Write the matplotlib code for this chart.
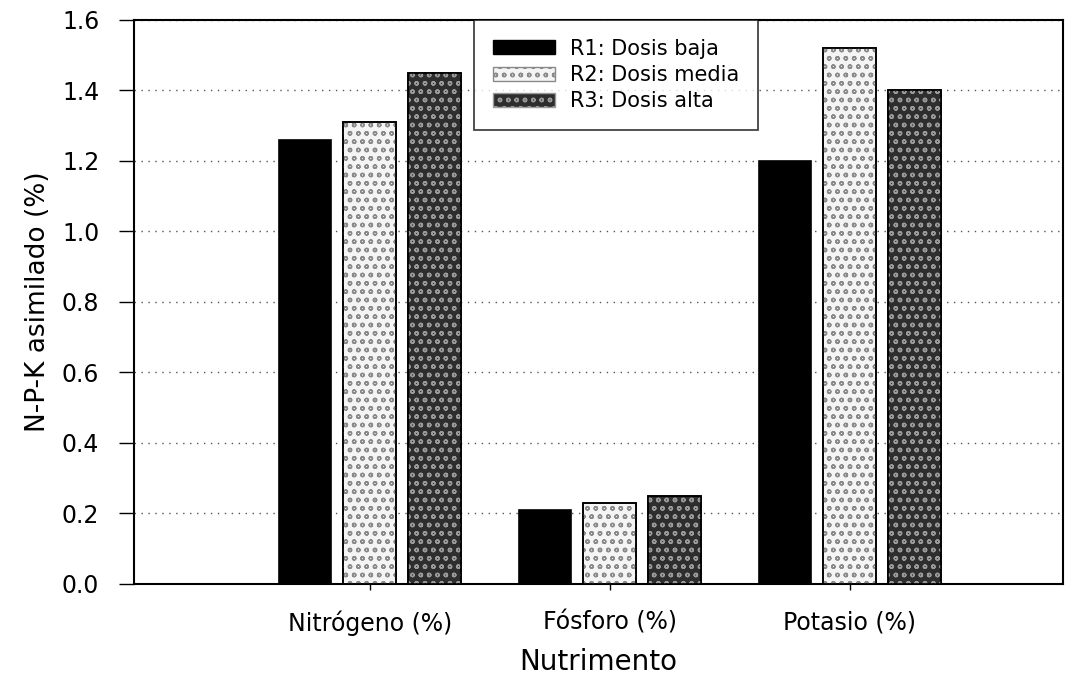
import numpy as np
import matplotlib.pyplot as plt
import matplotlib.patches as mpatches

# datos
nutrientes = ['Nitrógeno (%)', 'Fósforo (%)', 'Potasio (%)']
r1_baja = [1.26, 0.21, 1.20]
r2_media = [1.31, 0.23, 1.52]
r3_alta = [1.45, 0.25, 1.40]
series = ['R1: Dosis baja', 'R2: Dosis media', 'R3: Dosis alta']

plt.rcParams['font.family'] = ['DejaVu Sans']

fig = plt.figure(figsize=(10.78, 6.87), dpi=100)
ax = fig.add_axes([0.1243, 0.15, 0.8617, 0.821])

x = np.arange(len(nutrientes))
w = 0.22
step = 0.27

estilos = [
    dict(face='black', hatch=None, hcol=None),
    dict(face='#f4f4f4', hatch='oo', hcol='#8a8a8a'),
    dict(face='#2e2e2e', hatch='oo', hcol='#9a9a9a'),
]

for i, vals in enumerate([r1_baja, r2_media, r3_alta]):
    st = estilos[i]
    pos = x + (i - 1) * step
    ax.bar(pos, vals, w, color=st['face'], edgecolor='black', linewidth=1.2, zorder=3)
    if st['hatch']:
        ax.bar(pos, vals, w, color='none', edgecolor=st['hcol'], hatch=st['hatch'], linewidth=0, zorder=4)
        ax.bar(pos, vals, w, color='none', edgecolor='black', linewidth=1.2, zorder=5)

ax.set_xlim(-0.983, 2.888)
ax.set_ylim(0, 1.6)
ax.set_yticks(np.arange(0, 1.61, 0.2))
ax.set_yticklabels(['%.1f' % v for v in np.arange(0, 1.61, 0.2)])
ax.set_xticks(x)
ax.set_xticklabels(nutrientes)
ax.tick_params(axis='y', direction='out', length=11, width=1, labelsize=17, pad=14)
ax.tick_params(axis='x', direction='out', length=4, width=1, labelsize=17, pad=15)
ax.yaxis.grid(True, linestyle=(0, (1, 4)), color='#555555', linewidth=1, zorder=0)
ax.set_axisbelow(True)
for s in ax.spines.values():
    s.set_linewidth(1.5)

ax.set_ylabel('N-P-K asimilado (%)', fontsize=19, labelpad=8)
ax.set_xlabel('Nutrimento', fontsize=20, labelpad=9)

leg_h = [
    mpatches.Patch(facecolor='black', edgecolor='black'),
    mpatches.Patch(facecolor='#f4f4f4', edgecolor='#8a8a8a', hatch='oo'),
    mpatches.Patch(facecolor='#2e2e2e', edgecolor='#9a9a9a', hatch='oo'),
]
leg = ax.legend(leg_h, series, loc='upper left', bbox_to_anchor=(0.366, 1.0),
                fontsize=15, frameon=True, fancybox=False, edgecolor='black',
                borderaxespad=0, handlelength=3.0, handleheight=0.65,
                labelspacing=0.3, borderpad=0.9, handletextpad=0.7)
leg.get_frame().set_linewidth(1.2)
leg.set_zorder(10)

fig.savefig('out.png', dpi=100)
